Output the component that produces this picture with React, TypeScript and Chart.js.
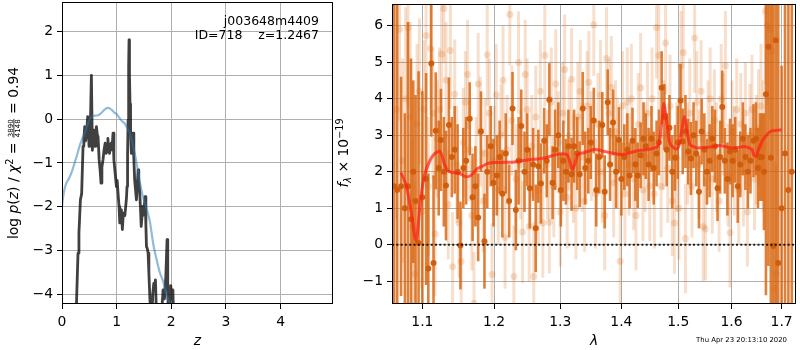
import React, { useEffect, useRef } from 'react';
import { Chart, registerables } from 'chart.js';
Chart.register(...registerables);

const FF = '"DejaVu Sans", "Liberation Sans", sans-serif';
Chart.defaults.font.family = FF;

// ---------------- left panel data ----------------
const zTicks = [0, 1, 2, 3, 4];
const logpTicks = [-4, -3, -2, -1, 0, 1, 2];
const zMin = 0, zMax = 4.96, logpMin = -4.22, logpMax = 2.675;

const pzZ = [0.25, 0.27, 0.293, 0.31, 0.337, 0.36, 0.385, 0.40, 0.416, 0.43,
  0.446, 0.47, 0.485, 0.495, 0.51, 0.52, 0.538, 0.556, 0.57, 0.58,
  0.595, 0.605, 0.62, 0.63, 0.645, 0.66, 0.68, 0.70, 0.714, 0.73,
  0.75, 0.77, 0.79, 0.81, 0.825, 0.84, 0.855, 0.87, 0.885, 0.90,
  0.915, 0.934, 0.95, 0.97, 0.996, 1.01, 1.03, 1.045, 1.057, 1.07,
  1.087, 1.105, 1.12, 1.136, 1.15, 1.166, 1.18, 1.19, 1.20, 1.21,
  1.22, 1.227, 1.235, 1.245, 1.255, 1.27, 1.285, 1.30, 1.315, 1.33,
  1.345, 1.362, 1.378, 1.393, 1.405, 1.42, 1.435, 1.45, 1.465, 1.48,
  1.50, 1.52, 1.535, 1.546, 1.56, 1.576, 1.59, 1.607, 1.625, 1.64,
  1.66, 1.68, 1.695, 1.71, 1.725, 1.74, 1.78, 1.82, 1.85, 1.875,
  1.90, 1.923, 1.935, 1.95, 1.97, 1.99, 2.01, 2.03, 2.05];
const pzLog = [-5, -4.0, -3.06, -2.6, -1.84, -1.7, -0.62, -0.45, -0.17, -0.5,
  -0.4, 0.06, -0.3, -0.62, -0.2, -0.1, 1.0, -0.71, -0.4, -0.25,
  -0.5, -0.62, -0.3, -0.17, -0.35, -0.4, -0.93, -1.2, -1.46, -1.1,
  -0.93, -0.7, -0.55, -0.78, -0.6, -0.44, -0.7, -0.78, -0.6, -0.55,
  -0.7, -0.32, -0.93, -1.2, -1.54, -1.4, -1.77, -2.0, -2.37, -2.1,
  -2.07, -2.52, -2.2, -2.14, -2.2, -1.99, -1.8, -1.54, -0.8, -0.02,
  1.2, 1.81, 1.0, 0.34, -0.3, -0.78, -0.5, -0.32, -0.9, -1.39,
  -1.6, -1.84, -1.5, -1.16, -1.4, -1.61, -2.0, -2.45, -2.2, -1.99,
  -2.1, -1.77, -2.4, -2.91, -2.95, -3.06, -3.5, -4.05, -4.5, -5,
  -4.0, -3.75, -3.9, -3.67, -4.3, -5, -5, -4.5, -3.9, -4.1,
  -3.6, -2.75, -3.7, -5, -4.3, -3.8, -4.1, -3.9, -5];

const priorZ = [0, 0.02, 0.05, 0.08, 0.13, 0.18, 0.23, 0.28, 0.32, 0.37,
  0.416, 0.46, 0.5, 0.55, 0.6, 0.66, 0.7, 0.75, 0.8, 0.84,
  0.88, 0.92, 0.96, 1.0, 1.05, 1.1, 1.15, 1.2, 1.25, 1.3,
  1.35, 1.4, 1.45, 1.5, 1.55, 1.61, 1.67, 1.73, 1.79, 1.85,
  1.9, 1.95, 2.0, 2.05];
const priorLog = [-2.0, -1.78, -1.58, -1.46, -1.35, -1.2, -1.0, -0.8, -0.62, -0.45,
  -0.32, -0.15, -0.02, 0.06, 0.08, 0.09, 0.12, 0.18, 0.24, 0.26,
  0.24, 0.2, 0.15, 0.12, 0.03, -0.05, -0.1, -0.22, -0.35, -0.6,
  -0.9, -1.25, -1.6, -1.85, -2.05, -2.35, -2.85, -3.2, -3.5, -3.7,
  -3.95, -4.15, -4.35, -4.6];

// ---------------- right panel data ----------------
const lamTicks = [1.1, 1.2, 1.3, 1.4, 1.5, 1.6, 1.7];
const fluxTicks = [-1, 0, 1, 2, 3, 4, 5, 6];
const lamMin = 1.0603, lamMax = 1.7299, fluxMin = -1.62, fluxMax = 6.59;

const darkLam = [1.063, 1.067, 1.072, 1.077, 1.081, 1.085, 1.088, 1.091, 1.095, 1.100,
  1.105, 1.108, 1.112, 1.115, 1.118, 1.122, 1.125, 1.129, 1.132, 1.136,
  1.140, 1.144, 1.148, 1.152, 1.156, 1.160, 1.165, 1.169, 1.173, 1.177,
  1.181, 1.186, 1.190, 1.195, 1.199, 1.204, 1.208, 1.212, 1.217, 1.222,
  1.227, 1.232, 1.236, 1.240, 1.245, 1.249, 1.253, 1.258, 1.262, 1.266,
  1.270, 1.275, 1.279, 1.283, 1.288, 1.292, 1.297, 1.301, 1.305, 1.309,
  1.313, 1.318, 1.322, 1.327, 1.331, 1.336, 1.340, 1.345, 1.349, 1.354,
  1.358, 1.363, 1.368, 1.372, 1.377, 1.381, 1.386, 1.391, 1.396, 1.400,
  1.405, 1.410, 1.414, 1.419, 1.424, 1.428, 1.433, 1.438, 1.442, 1.447,
  1.452, 1.456, 1.461, 1.465, 1.470, 1.475, 1.479, 1.484, 1.489, 1.494,
  1.499, 1.504, 1.508, 1.513, 1.518, 1.523, 1.528, 1.533, 1.538, 1.543,
  1.548, 1.553, 1.558, 1.563, 1.568, 1.573, 1.578, 1.582, 1.587, 1.592,
  1.597, 1.602, 1.607, 1.612, 1.617, 1.622, 1.627, 1.632, 1.637, 1.643,
  1.648, 1.652, 1.656, 1.660, 1.664, 1.668, 1.673, 1.678, 1.683, 1.688,
  1.693, 1.700, 1.707, 1.714, 1.721];
const darkFlux = [1.6, 1.5, 1.6, 1.0, 1.6, 0.7, 2.0, 1.2, 0.05, 1.3,
  1.8, -0.65, 4.96, -0.5, 3.12, 2.1, 2.87, 2.0, 1.62, 3.28,
  2.4, 2.6, 2.0, -0.02, 2.1, 2.3, 3.45, 1.3, 1.6, 0.75,
  3.1, 0.1, 2.0, 2.7, 1.7, 1.9, 2.4, 1.4, 2.5, 1.2,
  3.73, 0.95, 2.3, 3.25, 2.0, 2.6, 1.55, 2.2, 0.45, 2.15,
  1.68, 2.85, 2.3, 3.97, 1.7, 2.6, 3.0, 1.5, 2.3, 2.0,
  2.7, 1.93, 2.7, 2.5, 1.93, 3.73, 2.1, 2.3, 2.8, 3.4,
  1.5, 2.4, 3.28, 1.45, 3.9, 2.2, 3.35, 2.0, 2.87, 1.8,
  2.4, 2.6, 1.9, 2.85, 2.2, 1.9, 2.45, 2.9, 2.7, 2.2,
  2.9, 2.1, 2.5, 2.8, 4.3, 3.5, 2.6, 3.2, 2.0, 2.38,
  2.8, 3.95, 2.83, 3.1, 2.55, 2.36, 3.0, 2.5, 1.45, 3.1,
  2.6, 2.0, 2.3, 2.9, 2.7, 1.55, 2.4, 3.77, 2.3, 1.8,
  2.55, 2.3, 2.6, 1.6, 2.2, 2.9, 2.4, 2.0, 2.3, 2.85,
  2.9, 2.1, 2.4, 2.4, 2.0, 4.12, 5.42, 2.38, -0.03, 5.6,
  -0.5, 1.0, 2.5, 1.5, 2.0];
const darkErr = [6.0, 6.0, 3.0, 2.6, 4.5, 4.4, 2.5, 2.9, 4.7, 2.9,
  2.9, 2.6, 2.0, 2.4, 1.6, 1.3, 1.4, 1.5, 1.5, 1.3,
  1.1, 1.2, 1.3, 1.2, 1.1, 1.2, 1.0, 1.2, 1.1, 1.2,
  1.1, 1.3, 1.0, 1.1, 1.2, 1.1, 1.0, 1.2, 1.1, 1.0,
  1.0, 1.1, 1.2, 1.0, 1.1, 1.0, 1.1, 1.0, 1.2, 1.0,
  1.1, 0.9, 1.0, 1.0, 1.0, 1.1, 0.9, 1.0, 1.1, 0.9,
  1.0, 1.0, 1.0, 1.0, 0.9, 1.0, 1.0, 0.9, 1.0, 0.9,
  1.0, 1.0, 0.9, 1.0, 0.9, 1.0, 0.9, 1.0, 0.9, 1.0,
  0.9, 1.0, 0.9, 0.9, 1.0, 0.9, 0.9, 1.0, 0.9, 1.0,
  0.9, 1.0, 0.9, 0.9, 1.0, 0.9, 1.0, 0.9, 1.0, 0.9,
  1.0, 1.0, 0.9, 1.0, 0.9, 1.0, 0.9, 0.9, 1.0, 0.9,
  1.0, 0.9, 1.0, 0.9, 1.0, 0.9, 1.0, 1.0, 0.9, 1.0,
  0.9, 1.0, 0.9, 1.0, 0.9, 1.0, 0.9, 1.0, 0.9, 1.0,
  1.0, 1.1, 1.2, 1.2, 1.6, 5.5, 6.0, 7.0, 8.0, 9.0,
  8.0, 3.9, 9.0, 9.0, 8.0];

const lightLam = [1.066, 1.070, 1.074, 1.078, 1.081, 1.084, 1.087, 1.090, 1.093, 1.096,
  1.099, 1.102, 1.105, 1.108, 1.111, 1.114, 1.117, 1.120, 1.123, 1.126,
  1.129, 1.132, 1.135, 1.138, 1.141, 1.144, 1.147, 1.150, 1.153, 1.156,
  1.159, 1.162, 1.165, 1.168, 1.171, 1.174, 1.177, 1.180, 1.184, 1.187,
  1.190, 1.193, 1.197, 1.200, 1.203, 1.206, 1.210, 1.213, 1.216, 1.219,
  1.223, 1.226, 1.229, 1.232, 1.236, 1.239, 1.242, 1.246, 1.249, 1.252,
  1.256, 1.259, 1.262, 1.266, 1.269, 1.273, 1.276, 1.280, 1.283, 1.286,
  1.290, 1.293, 1.297, 1.300, 1.304, 1.307, 1.311, 1.314, 1.318, 1.321,
  1.325, 1.328, 1.332, 1.335, 1.339, 1.343, 1.346, 1.350, 1.354, 1.357,
  1.361, 1.365, 1.368, 1.372, 1.375, 1.379, 1.383, 1.387, 1.390, 1.394,
  1.398, 1.402, 1.406, 1.410, 1.413, 1.417, 1.421, 1.425, 1.429, 1.433,
  1.437, 1.441, 1.445, 1.449, 1.453, 1.457, 1.461, 1.465, 1.469, 1.473,
  1.477, 1.481, 1.485, 1.489, 1.493, 1.497, 1.501, 1.505, 1.509, 1.513,
  1.517, 1.521, 1.525, 1.530, 1.534, 1.538, 1.542, 1.546, 1.550, 1.555,
  1.559, 1.563, 1.567, 1.571, 1.576, 1.580, 1.584, 1.588, 1.593, 1.597,
  1.601, 1.605, 1.610, 1.614, 1.618, 1.623, 1.627, 1.631, 1.636, 1.640,
  1.645, 1.649, 1.653, 1.658, 1.662, 1.667, 1.671, 1.676, 1.680, 1.685,
  1.689];
const lightFlux = [3.7, 5.9, 2.3, 4.0, 5.93, 3.5, 0.5, -0.8, 3.3, 4.2,
  0.9, 3.7, 5.73, 1.6, 5.37, 3.6, 0.3, 2.9, 3.7, 5.22,
  6.47, 4.5, 1.1, 5.32, -0.6, 4.12, 2.2, 0.6, -0.46, 2.8,
  3.9, 4.66, 2.6, 0.8, -1.6, 2.0, 4.4, 3.1, 1.2, 2.5,
  5.2, 3.6, -0.81, 2.3, 4.1, 1.5, 3.0, 4.5, 0.2, 2.6,
  6.3, 3.4, -0.87, 1.8, 4.99, 2.2, 0.35, 4.66, 3.7, 0.5,
  2.7, -0.87, 3.5, 1.5, 4.2, 0.6, 5.18, 2.2, 0.62, 3.9,
  1.6, 4.4, 2.8, 0.9, 3.6, 4.8, 1.3, 3.0, 4.53, 2.1,
  1.0, 3.5, 4.2, 2.4, 1.2, 3.8, 4.45, 2.7, 6.02, 1.4,
  3.3, 4.1, 2.0, 0.8, 5.1, 3.6, 4.31, 1.7, 3.1, 2.5,
  -0.45, 3.8, 1.4, 3.9, 2.2, 4.0, 1.8, 0.8, 3.3, 4.3,
  1.5, 2.4, 3.6, 1.6, 4.0, 1.4, 5.95, 5.18, 1.6, 3.0,
  5.52, 2.1, 3.8, 1.2, 0.6, 2.4, 1.0, 4.9, 5.26, 0.17,
  2.5, 3.6, 1.6, 5.66, 3.9, 2.2, 4.2, 0.5, 0.43, 3.0,
  4.0, 1.8, 3.4, 2.4, 1.2, 4.0, 3.3, 4.9, 1.9, 0.33,
  3.1, 2.3, 3.7, 1.5, 3.3, 2.0, 3.6, 0.9, 3.0, 3.7,
  1.8, 2.6, 3.2, 3.8, 2.7, 6.4, 6.0, 5.9, 5.3, -1.2,
  -0.8];
const lightErr = [3.0, 2.5, 2.8, 2.5, 2.2, 2.6, 2.4, 2.5, 2.2, 2.0,
  2.1, 1.9, 1.8, 1.9, 1.7, 1.8, 1.7, 1.6, 1.7, 1.6,
  1.5, 1.6, 1.5, 1.6, 1.5, 1.5, 1.6, 1.5, 1.4, 1.5,
  1.4, 1.5, 1.4, 1.5, 1.4, 1.5, 1.4, 1.5, 1.4, 1.5,
  1.4, 1.5, 1.4, 1.5, 1.4, 1.5, 1.4, 1.5, 1.4, 1.5,
  1.4, 1.5, 1.4, 1.5, 1.4, 1.5, 1.4, 1.5, 1.4, 1.5,
  1.4, 1.5, 1.4, 1.5, 1.4, 1.5, 1.4, 1.5, 1.4, 1.5,
  1.4, 1.5, 1.4, 1.5, 1.4, 1.5, 1.4, 1.5, 1.4, 1.5,
  1.4, 1.5, 1.4, 1.5, 1.4, 1.5, 1.4, 1.5, 1.4, 1.5,
  1.4, 1.5, 1.4, 1.5, 1.4, 1.5, 1.4, 1.5, 1.4, 1.5,
  1.4, 1.5, 1.4, 1.5, 1.4, 1.5, 1.4, 1.5, 1.4, 1.5,
  1.4, 1.5, 1.4, 1.5, 1.4, 1.5, 1.4, 1.5, 1.4, 1.5,
  1.4, 1.5, 1.4, 1.5, 1.4, 1.5, 1.4, 1.5, 1.4, 1.5,
  1.4, 1.5, 1.4, 1.5, 1.4, 1.5, 1.4, 1.5, 1.4, 1.5,
  1.4, 1.5, 1.4, 1.5, 1.4, 1.5, 1.4, 1.5, 1.4, 1.5,
  1.4, 1.5, 1.4, 1.5, 1.4, 1.5, 1.4, 1.5, 1.4, 1.5,
  1.4, 1.5, 1.6, 1.7, 1.8, 2.0, 2.2, 2.5, 3.0, 3.5,
  3.0];

const modelLam = [1.072, 1.0795, 1.0857, 1.0917, 1.097, 1.1013, 1.110, 1.1237, 1.130, 1.1352,
  1.151, 1.160, 1.167, 1.174, 1.183, 1.193, 1.205, 1.216, 1.227, 1.240,
  1.252, 1.265, 1.277, 1.290, 1.302, 1.310, 1.315, 1.319, 1.323, 1.328,
  1.335, 1.345, 1.356, 1.370, 1.384, 1.400, 1.415, 1.430, 1.445, 1.458,
  1.465, 1.470, 1.474, 1.478, 1.484, 1.490, 1.496, 1.502, 1.507, 1.511,
  1.516, 1.521, 1.526, 1.535, 1.548, 1.560, 1.577, 1.590, 1.600, 1.612,
  1.624, 1.634, 1.640, 1.644, 1.648, 1.653, 1.660, 1.668, 1.677, 1.688,
  1.700];
const modelFlux = [1.97, 1.56, 0.84, 0.12, 1.1, 1.75, 2.3, 2.56, 2.2, 2.02,
  1.95, 1.86, 1.9, 2.06, 2.15, 2.24, 2.25, 2.26, 2.26, 2.3,
  2.33, 2.35, 2.38, 2.45, 2.49, 2.48, 2.3, 2.06, 2.2, 2.48,
  2.51, 2.56, 2.61, 2.56, 2.51, 2.47, 2.52, 2.58, 2.61, 2.65,
  2.75, 3.3, 3.87, 3.5, 2.83, 2.68, 2.62, 2.75, 3.2, 3.51,
  3.1, 2.75, 2.7, 2.65, 2.66, 2.68, 2.72, 2.68, 2.65, 2.66,
  2.69, 2.65, 2.6, 2.45, 2.42, 2.6, 2.83, 2.98, 3.1, 3.13,
  3.15];

// ---------------- helpers ----------------
const TICK_SIZE = 13.9;
const fnt = (s: number, it = false) => `${it ? 'italic ' : ''}${s}px ${FF}`;
const fmtNum = (v: any) => String(v).replace('-', '\u2212');

type Part = { t?: string; it?: boolean; s?: number; dy?: number; num?: string; den?: string };

function drawParts(ctx: CanvasRenderingContext2D, parts: Part[], cx: number, cy: number, rotate: boolean) {
  ctx.save();
  ctx.translate(cx, cy);
  if (rotate) ctx.rotate(-Math.PI / 2);
  ctx.fillStyle = '#000';
  ctx.textBaseline = 'alphabetic';
  ctx.textAlign = 'left';
  const widths = parts.map((p) => {
    if (p.num) {
      ctx.font = fnt(p.s || 7);
      return Math.max(ctx.measureText(p.num).width, ctx.measureText(p.den || '').width) + 2;
    }
    ctx.font = fnt(p.s || TICK_SIZE, p.it);
    return ctx.measureText(p.t || '').width;
  });
  const total = widths.reduce((a, b) => a + b, 0);
  let x = -total / 2;
  parts.forEach((p, i) => {
    const w = widths[i];
    if (p.num) {
      ctx.font = fnt(p.s || 7);
      ctx.textAlign = 'center';
      ctx.fillText(p.num, x + w / 2, -5.8);
      ctx.fillText(p.den || '', x + w / 2, 1.4);
      ctx.textAlign = 'left';
      ctx.fillRect(x + 0.5, -4.9, w - 1, 0.8);
    } else {
      ctx.font = fnt(p.s || TICK_SIZE, p.it);
      ctx.fillText(p.t || '', x, p.dy || 0);
    }
    x += w;
  });
  ctx.restore();
}

const framePlugin = {
  id: 'frame',
  afterDraw(chart: any) {
    const { ctx, chartArea: a } = chart;
    ctx.save();
    ctx.strokeStyle = '#000';
    ctx.lineWidth = 1;
    ctx.strokeRect(a.left + 0.5, a.top + 0.5, a.right - a.left - 1, a.bottom - a.top - 1);
    ctx.restore();
  },
};

function axis(ticksArr: number[], fmt: (v: any) => string, pad: number, fit: (s: any) => void) {
  return {
    afterBuildTicks: (s: any) => { s.ticks = ticksArr.map((v) => ({ value: v })); },
    afterFit: (s: any) => {
      fit(s);
      s.paddingTop = 0; s.paddingBottom = 0; s.paddingLeft = 0; s.paddingRight = 0;
    },
    ticks: { font: { family: FF, size: TICK_SIZE }, color: '#000', padding: pad, autoSkip: false, maxRotation: 0, minRotation: 0, callback: fmt },
    grid: { color: '#b0b0b0', lineWidth: 1, tickColor: '#000', tickLength: 5, tickWidth: 1, drawTicks: true, offset: false },
    border: { display: false },
    offset: false,
  };
}

const leftTextPlugin = {
  id: 'leftText',
  afterDraw(chart: any) {
    const { ctx, chartArea: a } = chart;
    ctx.save();
    ctx.fillStyle = '#000';
    ctx.font = fnt(12.5);
    ctx.textAlign = 'right';
    ctx.textBaseline = 'alphabetic';
    ctx.fillText('j003648m4409', 319, 24.8);
    ctx.fillText('ID=718    z=1.2467', 319, 39);
    ctx.font = fnt(TICK_SIZE, true);
    ctx.textAlign = 'center';
    ctx.fillText('z', (a.left + a.right) / 2, 344.5);
    ctx.restore();
    drawParts(ctx, [
      { t: 'log ' }, { t: 'p', it: true }, { t: '(' }, { t: 'z', it: true }, { t: ') / ' },
      { t: '\u03c7', it: true }, { t: '2', s: 9.7, dy: -5.5 }, { t: ' = ' },
      { num: '3890', den: '4148', s: 7 }, { t: ' = 0.94' },
    ], 18.4, 153, true);
  },
};

const RIGHT_OFF = 334;
const rightTextPlugin = {
  id: 'rightText',
  afterDraw(chart: any) {
    const { ctx, chartArea: a } = chart;
    ctx.save();
    ctx.fillStyle = '#000';
    ctx.font = fnt(TICK_SIZE, true);
    ctx.textAlign = 'center';
    ctx.textBaseline = 'alphabetic';
    ctx.fillText('\u03bb', (a.left + a.right) / 2, 345);
    ctx.font = fnt(6.9);
    ctx.textAlign = 'right';
    ctx.fillText('Thu Apr 23 20:13:10 2020', 787 - RIGHT_OFF, 341.8);
    ctx.restore();
    drawParts(ctx, [
      { t: 'f', it: true }, { t: '\u03bb', it: true, s: 9.7, dy: 2.8 }, { t: ' \u00d7 10' }, { t: '\u221219', s: 9.7, dy: -5.5 },
    ], 348.3 - RIGHT_OFF, 153, true);
  },
};

function leftConfig(): any {
  return {
    type: 'line',
    data: {
      datasets: [
        {
          label: 'prior',
          data: priorZ.map((z, i) => ({ x: z, y: priorLog[i] })),
          borderColor: 'rgba(31,119,180,0.5)',
          borderWidth: 2.2,
          pointRadius: 0,
          cubicInterpolationMode: 'monotone',
          clip: 0,
          order: 0,
        },
        {
          label: 'pz',
          data: pzZ.map((z, i) => ({ x: z, y: pzLog[i] })),
          borderColor: 'rgba(0,0,0,0.75)',
          borderWidth: 2.8,
          borderJoinStyle: 'round',
          pointRadius: 0,
          tension: 0,
          clip: 0,
          order: 1,
        },
      ],
    },
    options: {
      responsive: false,
      animation: false,
      devicePixelRatio: 1,
      events: [],
      layout: { padding: { left: 0, right: 1, top: 2, bottom: 0 } },
      plugins: { legend: { display: false }, tooltip: { enabled: false } },
      scales: {
        x: { type: 'linear', min: zMin, max: zMax, ...axis(zTicks, fmtNum, 5, (s: any) => { s.height = 46; }) },
        y: { type: 'linear', min: logpMin, max: logpMax, ...axis(logpTicks, fmtNum, 4, (s: any) => { s.width = 62; }) },
      },
    },
    plugins: [framePlugin, leftTextPlugin],
  };
}

function rightConfig(): any {
  const darkC = 'rgba(216,100,14,0.82)';
  const lightC = 'rgba(217,95,2,0.2)';
  return {
    type: 'line',
    data: {
      datasets: [
        {
          type: 'line',
          label: 'zero',
          data: [{ x: lamMin, y: 0 }, { x: lamMax, y: 0 }],
          borderColor: 'rgba(0,0,0,0.85)',
          borderWidth: 2,
          borderDash: [2, 2.3],
          pointRadius: 0,
          clip: 0,
          order: 0,
        },
        {
          type: 'line',
          label: 'model',
          data: modelLam.map((l, i) => ({ x: l, y: modelFlux[i] })),
          borderColor: 'rgba(255,30,20,0.7)',
          borderWidth: 3,
          pointRadius: 0,
          cubicInterpolationMode: 'monotone',
          clip: 0,
          order: 1,
        },
        {
          type: 'scatter',
          label: 'darkPts',
          data: darkLam.map((l, i) => ({ x: l, y: darkFlux[i] })),
          pointRadius: 3,
          pointBackgroundColor: 'rgba(208,92,10,0.95)',
          pointBorderWidth: 0,
          pointBorderColor: 'rgba(0,0,0,0)',
          showLine: false,
          clip: 0,
          order: 2,
        },
        {
          type: 'bar',
          label: 'darkErr',
          data: darkLam.map((l, i) => ({ x: l, y: [darkFlux[i] - darkErr[i], darkFlux[i] + darkErr[i]] })),
          backgroundColor: darkC,
          borderWidth: 0,
          barThickness: 2.6,
          grouped: false,
          inflateAmount: 0,
          clip: 0,
          order: 3,
        },
        {
          type: 'scatter',
          label: 'lightPts',
          data: lightLam.map((l, i) => ({ x: l, y: lightFlux[i] })),
          pointRadius: 3.5,
          pointBackgroundColor: lightC,
          pointBorderWidth: 0,
          pointBorderColor: 'rgba(0,0,0,0)',
          showLine: false,
          clip: 0,
          order: 4,
        },
        {
          type: 'bar',
          label: 'lightErr',
          data: lightLam.map((l, i) => ({ x: l, y: [lightFlux[i] - lightErr[i], lightFlux[i] + lightErr[i]] })),
          backgroundColor: lightC,
          borderWidth: 0,
          barThickness: 3,
          grouped: false,
          inflateAmount: 0,
          clip: 0,
          order: 5,
        },
      ],
    },
    options: {
      responsive: false,
      animation: false,
      devicePixelRatio: 1,
      events: [],
      layout: { padding: { left: 0, right: 1, top: 2, bottom: 0 } },
      plugins: { legend: { display: false }, tooltip: { enabled: false } },
      scales: {
        x: {
          type: 'logarithmic', min: lamMin, max: lamMax,
          ...axis(lamTicks, (v: any) => Number(v).toFixed(1), 5, (s: any) => { s.height = 46; }),
        },
        y: { type: 'linear', min: fluxMin, max: fluxMax, ...axis(fluxTicks, fmtNum, 4, (s: any) => { s.width = 58; }) },
      },
    },
    plugins: [framePlugin, rightTextPlugin],
  };
}

export default function App() {
  const leftRef = useRef<HTMLCanvasElement>(null);
  const rightRef = useRef<HTMLCanvasElement>(null);
  useEffect(() => {
    const l = new Chart(leftRef.current as HTMLCanvasElement, leftConfig());
    const r = new Chart(rightRef.current as HTMLCanvasElement, rightConfig());
    return () => { l.destroy(); r.destroy(); };
  }, []);
  return (
    <div style={{ position: 'absolute', left: 0, top: 0, width: 800, height: 350, background: '#fff' }}>
      <canvas ref={leftRef} width={334} height={350} style={{ position: 'absolute', left: 0, top: 0, width: 334, height: 350 }} />
      <canvas ref={rightRef} width={466} height={350} style={{ position: 'absolute', left: RIGHT_OFF, top: 0, width: 466, height: 350 }} />
    </div>
  );
}
